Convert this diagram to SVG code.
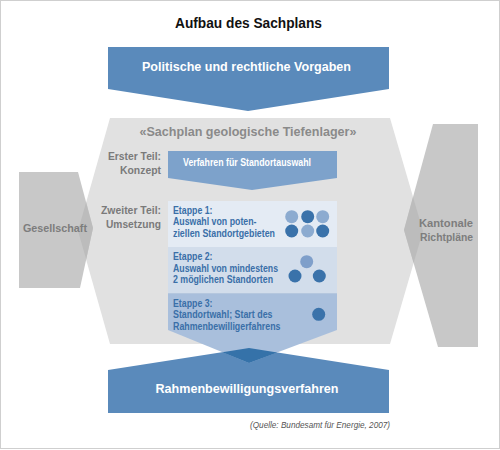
<svg xmlns="http://www.w3.org/2000/svg" width="500" height="450" viewBox="0 0 500 450">
<style>
text{font-family:"Liberation Sans",Arial,sans-serif;font-weight:bold}
.title{font-size:14.5px;fill:#111}
.big{font-size:13.5px;fill:#fff}
.gray{font-size:11px;fill:#7a7a7a}
.side{font-size:11px;fill:#7d7d7d}
.et{font-size:10.5px;fill:#3a6fa8}
.small{font-size:10.5px;fill:#fff}
.src{font-size:8.5px;font-style:italic;font-weight:normal;fill:#555}
.dk{fill:#3a72aa}
.lt{fill:#8cabd0}
</style>
<rect x="0.5" y="0.5" width="499" height="448" fill="#fff" stroke="#cfcfcf" stroke-width="1"/>
<g id="title"><text class="title" x="248.5" y="28" text-anchor="middle" textLength="147" lengthAdjust="spacingAndGlyphs">Aufbau des Sachplans</text></g>
<g id="sachplan">
<polygon points="110,118 390,118 423,231 390,344 110,344 78,231" fill="#e1e1e1"/>
<text x="248" y="136" text-anchor="middle" style="font-size:13.5px;fill:#8a8a8a" textLength="217" lengthAdjust="spacingAndGlyphs">«Sachplan geologische Tiefenlager»</text>
</g>
<g id="gesellschaft">
<polygon points="19,172 78,172 93,228 80,288 19,288" fill="#c8c8c8"/>
<polygon points="86.1,202.3 93,228 86.2,259.2 78,231" fill="#bcbcbc"/>
<text class="side" x="55" y="232" text-anchor="middle" textLength="64" lengthAdjust="spacingAndGlyphs">Gesellschaft</text>
</g>
<g id="kantonale">
<polygon points="433,124 478,124 478,347 438,347 404,230" fill="#c8c8c8"/>
<polygon points="413,197 423,231 413.6,263.1 404,230" fill="#bcbcbc"/>
<text class="side" x="473" y="227" text-anchor="end" textLength="54" lengthAdjust="spacingAndGlyphs">Kantonale</text>
<text class="side" x="473" y="241" text-anchor="end" textLength="53" lengthAdjust="spacingAndGlyphs">Richtpläne</text>
</g>
<g id="vorgaben">
<polygon points="108,47 389,47 389,89 248,111 108,89" fill="#5a8abb"/>
<text class="big" x="246.5" y="71" text-anchor="middle" textLength="209" lengthAdjust="spacingAndGlyphs">Politische und rechtliche Vorgaben</text>
</g>
<g id="erster-teil">
<text class="gray" x="161" y="160" text-anchor="end" textLength="53" lengthAdjust="spacingAndGlyphs">Erster Teil:</text>
<text class="gray" x="161" y="174" text-anchor="end" textLength="41" lengthAdjust="spacingAndGlyphs">Konzept</text>
</g>
<g id="verfahren">
<polygon points="168,151 337,151 337,178 252,190 168,178" fill="#7da2cb"/>
<text class="small" x="183" y="166" textLength="128" lengthAdjust="spacingAndGlyphs">Verfahren für Standortauswahl</text>
</g>
<g id="zweiter-teil">
<text class="gray" x="161" y="214" text-anchor="end" textLength="60" lengthAdjust="spacingAndGlyphs">Zweiter Teil:</text>
<text class="gray" x="161" y="228" text-anchor="end" textLength="55" lengthAdjust="spacingAndGlyphs">Umsetzung</text>
</g>
<g id="rahmen">
<polygon points="108,370 249,348 389,370 389,413 108,413" fill="#5a8abb"/>
<text class="big" x="247" y="392.5" text-anchor="middle" textLength="183" lengthAdjust="spacingAndGlyphs">Rahmenbewilligungsverfahren</text>
</g>
<g id="etappe1">
<rect x="168" y="201" width="169" height="46" fill="#e4ebf4"/>
<text class="et" x="173" y="213.5" textLength="39.5" lengthAdjust="spacingAndGlyphs">Etappe 1:</text>
<text class="et" x="173" y="225" textLength="83.5" lengthAdjust="spacingAndGlyphs">Auswahl von poten-</text>
<text class="et" x="173" y="236.5" textLength="102" lengthAdjust="spacingAndGlyphs">ziellen Standortgebieten</text>
<circle cx="291.7" cy="216.7" r="6.5" class="lt"/>
<circle cx="307.7" cy="216.7" r="6.5" class="dk"/>
<circle cx="322.7" cy="216.7" r="6.5" class="lt"/>
<circle cx="291.7" cy="231" r="6.5" class="dk"/>
<circle cx="307.7" cy="231" r="6.5" class="lt"/>
<circle cx="322.7" cy="231" r="6.5" class="dk"/>
</g>
<g id="etappe2">
<rect x="168" y="247" width="169" height="46.3" fill="#d2ddeb"/>
<text class="et" x="173" y="260" textLength="39.5" lengthAdjust="spacingAndGlyphs">Etappe 2:</text>
<text class="et" x="173" y="271.5" textLength="105" lengthAdjust="spacingAndGlyphs">Auswahl von mindestens</text>
<text class="et" x="173" y="283" textLength="100" lengthAdjust="spacingAndGlyphs">2 möglichen Standorten</text>
<circle cx="306.7" cy="261.7" r="6.5" fill="#7f9fca"/>
<circle cx="295" cy="276" r="6.5" class="dk"/>
<circle cx="319.3" cy="276" r="6.5" class="dk"/>
</g>
<g id="etappe3">
<polygon points="168,293.3 337,293.3 337,330 249,363 168,330" fill="#a9bfdc"/>
<polygon points="222.4,352.2 249,348 277.3,352.4 249,363" fill="#3572a9"/>
<text class="et" x="173" y="306.5" textLength="39.5" lengthAdjust="spacingAndGlyphs">Etappe 3:</text>
<text class="et" x="173" y="318" textLength="99.5" lengthAdjust="spacingAndGlyphs">Standortwahl; Start des</text>
<text class="et" x="173" y="329.5" textLength="107.5" lengthAdjust="spacingAndGlyphs">Rahmenbewilligerfahrens</text>
<circle cx="318.7" cy="314.3" r="6.5" class="dk"/>
</g>
<g id="quelle">
<text class="src" x="390" y="428" text-anchor="end" textLength="140" lengthAdjust="spacingAndGlyphs">(Quelle: Bundesamt für Energie, 2007)</text>
</g>
</svg>
